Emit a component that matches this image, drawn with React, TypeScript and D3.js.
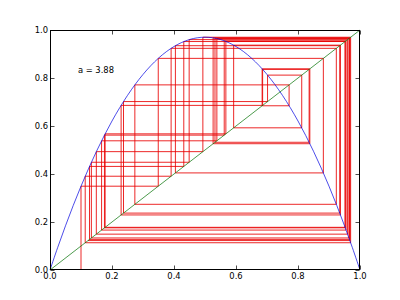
import React from "react";
import * as d3 from "d3";

// logistic parameter label
const paramLabel = "a = 3.88";

// iterates of the cobweb
const orbit = [
  0.1, 0.3492, 0.8818, 0.4045, 0.9346, 0.2371, 0.7018, 0.812, 0.5924, 0.9369,
  0.2294, 0.6859, 0.8359, 0.5322, 0.966, 0.1275, 0.4316, 0.9519, 0.1778, 0.5673,
  0.9524, 0.1757, 0.562, 0.9551, 0.1664, 0.5383, 0.9643, 0.1335, 0.4489, 0.9599,
  0.1494, 0.4931, 0.9698, 0.1136, 0.3907, 0.9236, 0.2737, 0.7713, 0.6843, 0.8382,
  0.5262, 0.9673, 0.1226,
];

// map curve samples
const curveX = [
  0, 0.025, 0.05, 0.075, 0.1, 0.125, 0.15, 0.175, 0.2, 0.225, 0.25, 0.275, 0.3,
  0.325, 0.35, 0.375, 0.4, 0.425, 0.45, 0.475, 0.5, 0.525, 0.55, 0.575, 0.6,
  0.625, 0.65, 0.675, 0.7, 0.725, 0.75, 0.775, 0.8, 0.825, 0.85, 0.875, 0.9,
  0.925, 0.95, 0.975, 1,
];
const curveY = [
  0, 0.094575, 0.1843, 0.269175, 0.3492, 0.424375, 0.4947, 0.560175, 0.6208,
  0.676575, 0.7275, 0.773575, 0.8148, 0.851175, 0.8827, 0.909375, 0.9312,
  0.948175, 0.9603, 0.967575, 0.97, 0.967575, 0.9603, 0.948175, 0.9312,
  0.909375, 0.8827, 0.851175, 0.8148, 0.773575, 0.7275, 0.676575, 0.6208,
  0.560175, 0.4947, 0.424375, 0.3492, 0.269175, 0.1843, 0.094575, 0,
];

// diagonal
const diagX = [0, 1];
const diagY = [0, 1];

const xTicks = [0, 0.2, 0.4, 0.6, 0.8, 1.0];
const yTicks = [0, 0.2, 0.4, 0.6, 0.8, 1.0];

export default function App() {
  const W = 400;
  const H = 300;
  const x = d3.scaleLinear().domain([0, 1]).range([50, 360]);
  const y = d3.scaleLinear().domain([0, 1]).range([270, 30]);

  const segs: { x1: number; y1: number; x2: number; y2: number }[] = [];
  for (let i = 0; i < orbit.length - 1; i++) {
    const xi = orbit[i];
    const xn = orbit[i + 1];
    segs.push({ x1: xi, y1: i === 0 ? 0 : xi, x2: xi, y2: xn });
    segs.push({ x1: xi, y1: xn, x2: xn, y2: xn });
  }

  const line = d3
    .line<number>()
    .x((_, i) => x(curveX[i]))
    .y((d) => y(d))
    .curve(d3.curveCatmullRom);
  const diag = d3
    .line<number>()
    .x((_, i) => x(diagX[i]))
    .y((d) => y(d));

  const font = "'DejaVu Sans', sans-serif";
  const fs = 8.4;

  return (
    <svg
      width={W}
      height={H}
      style={{ position: "absolute", left: 0, top: 0, background: "#fff" }}
    >
      <rect x={0} y={0} width={W} height={H} fill="#fff" />
      <g>
        {segs.map((s, i) => (
          <line
            key={i}
            x1={x(s.x1)}
            y1={y(s.y1)}
            x2={x(s.x2)}
            y2={y(s.y2)}
            stroke="#e80000"
            strokeWidth={0.85}
          />
        ))}
      </g>
      <path d={line(curveY) || ""} fill="none" stroke="#0000e0" strokeWidth={0.7} />
      <path d={diag(diagY) || ""} fill="none" stroke="#007000" strokeWidth={0.7} />
      <text
        x={x(0.09)}
        y={y(0.82)}
        fontFamily={font}
        fontSize={fs}
        fill="#000"
      >
        {paramLabel}
      </text>
      {/* frame */}
      <rect x={50.5} y={30.5} width={309} height={239} fill="none" stroke="#000" strokeWidth={1} />
      {/* ticks */}
      {xTicks.map((t) => (
        <g key={"x" + t}>
          <line x1={Math.round(x(t)) + 0.5} x2={Math.round(x(t)) + 0.5} y1={269.5} y2={265.5} stroke="#000" strokeWidth={0.7} />
          <line x1={Math.round(x(t)) + 0.5} x2={Math.round(x(t)) + 0.5} y1={30.5} y2={34.5} stroke="#000" strokeWidth={0.7} />
          <text
            x={x(t)}
            y={279}
            textAnchor="middle"
            fontFamily={font}
            fontSize={fs}
            fill="#000"
          >
            {t.toFixed(1)}
          </text>
        </g>
      ))}
      {yTicks.map((t) => (
        <g key={"y" + t}>
          <line y1={Math.round(y(t)) + 0.5} y2={Math.round(y(t)) + 0.5} x1={50.5} x2={54.5} stroke="#000" strokeWidth={0.7} />
          <line y1={Math.round(y(t)) + 0.5} y2={Math.round(y(t)) + 0.5} x1={359.5} x2={355.5} stroke="#000" strokeWidth={0.7} />
          <text
            x={48}
            y={y(t) + 3}
            textAnchor="end"
            fontFamily={font}
            fontSize={fs}
            fill="#000"
          >
            {t.toFixed(1)}
          </text>
        </g>
      ))}
    </svg>
  );
}
